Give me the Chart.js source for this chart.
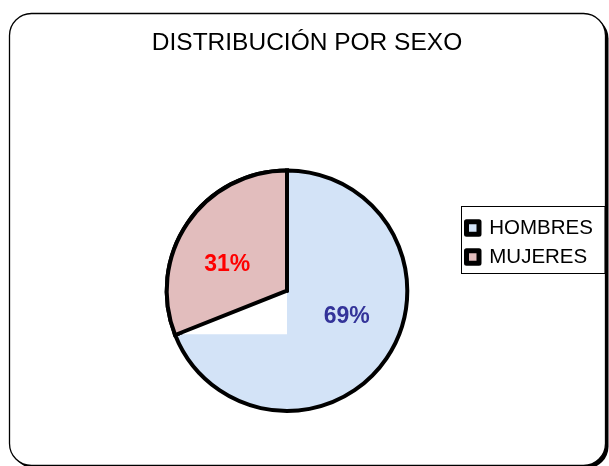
<!DOCTYPE html>
<html>
<head>
<meta charset="utf-8">
<script src="https://cdn.jsdelivr.net/npm/chart.js@4.4.1/dist/chart.umd.min.js"></script>
<style>
  html, body { margin: 0; padding: 0; background: #fff; }
</style>
</head>
<body>
<canvas id="chart" width="609" height="466"></canvas>
<script>
const TITLE = 'DISTRIBUCIÓN POR SEXO';
const CATEGORIES = ['HOMBRES', 'MUJERES'];
const PERCENTS = [69, 31];
const SLICE_COLORS = ['#d3e3f7', '#e2bdbd'];
const LABEL_COLORS = ['#333399', '#ff0000'];

const FONT = "'Liberation Sans', Arial, sans-serif";

// rounded frame with a drop shadow, like the spreadsheet chart box
const framePlugin = {
    id: 'frame',
    beforeDraw(chart) {
        const ctx = chart.ctx;
        ctx.save();
        ctx.fillStyle = '#000';
        ctx.beginPath();
        ctx.roundRect(12.5, 16.5, 596, 452, 22);
        ctx.fill();
        ctx.fillStyle = '#fff';
        ctx.beginPath();
        ctx.roundRect(9.5, 13.5, 596, 452, 22);
        ctx.fill();
        ctx.lineWidth = 1.3;
        ctx.strokeStyle = '#000';
        ctx.stroke();
        ctx.restore();
    }
};

// the original render leaves a white wedge under the centre, then labels on top
const sliceExtras = {
    id: 'sliceExtras',
    afterDatasetsDraw(chart, args, opts) {
        const ctx = chart.ctx;
        const arcs = chart.getDatasetMeta(0).data;
        const first = arcs[0];
        const r = first.outerRadius - 2;
        const ex = first.x + r * Math.cos(first.endAngle);
        const ey = first.y + r * Math.sin(first.endAngle);
        ctx.save();
        ctx.fillStyle = '#fff';
        ctx.beginPath();
        ctx.moveTo(first.x, first.y);
        ctx.lineTo(ex, ey);
        ctx.lineTo(first.x, ey);
        ctx.closePath();
        ctx.fill();
        ctx.restore();
        // redraw the neighbour so its border sits over the wedge
        arcs[1].draw(ctx);

        ctx.save();
        ctx.font = 'bold 23px ' + FONT;
        ctx.textAlign = 'center';
        ctx.textBaseline = 'middle';
        arcs.forEach((arc, i) => {
            const mid = (arc.startAngle + arc.endAngle) / 2;
            const x = arc.x + Math.cos(mid) * arc.outerRadius * opts.rx;
            const y = arc.y + Math.sin(mid) * arc.outerRadius * opts.ry;
            ctx.fillStyle = LABEL_COLORS[i];
            ctx.fillText(PERCENTS[i] + '%', x, y);
        });
        ctx.restore();
    }
};

// legend is laid out narrow (so title and pie centre right), then widened for drawing;
// a thin box is drawn round it
const legendBox = {
    id: 'legendBox',
    afterLayout(chart) {
        const legend = chart.legend;
        legend.right = chart.width - 3;
        legend.width = legend.right - legend.left;
    },
    afterDraw(chart) {
        const boxes = chart.legend.legendHitBoxes;
        if (!boxes || !boxes.length) return;
        const first = boxes[0];
        const last = boxes[boxes.length - 1];
        const left = Math.round(first.left - 6) + 0.5;
        const top = Math.round(first.top - 12) + 0.5;
        const bottom = Math.round(last.top + last.height + 6) + 0.5;
        const ctx = chart.ctx;
        ctx.save();
        ctx.strokeStyle = '#000';
        ctx.lineWidth = 1;
        ctx.strokeRect(left, top, chart.width - 4 - left, bottom - top);
        ctx.restore();
    }
};

const pieLabels = Chart.controllers.pie.overrides.plugins.legend.labels.generateLabels;

new Chart(document.getElementById('chart'), {
    type: 'pie',
    data: {
        labels: CATEGORIES,
        datasets: [{
            data: PERCENTS,
            backgroundColor: SLICE_COLORS,
            borderColor: '#000',
            borderWidth: 4,
            borderJoinStyle: 'miter'
        }]
    },
    options: {
        responsive: false,
        animation: false,
        layout: {
            padding: { top: 10, bottom: 53, left: 116, right: 111 }
        },
        plugins: {
            title: {
                display: true,
                text: TITLE,
                color: '#000',
                font: { family: FONT, size: 24.5, weight: 'normal', lineHeight: 1.2 },
                padding: { top: 19, bottom: 110 }
            },
            legend: {
                position: 'right',
                maxWidth: 40,
                title: {
                    display: true,
                    text: '',
                    font: { size: 10, lineHeight: 1 },
                    padding: { top: 52, bottom: 0 }
                },
                labels: {
                    color: '#000',
                    font: { family: FONT, size: 20.5 },
                    boxWidth: 12.5,
                    boxHeight: 12.5,
                    padding: 8.5,
                    generateLabels: (chart) => pieLabels(chart).map(item => {
                        item.lineWidth = 5;
                        item.lineJoin = 'round';
                        return item;
                    })
                }
            },
            tooltip: { enabled: false },
            sliceExtras: { rx: 0.6, ry: 0.38 }
        }
    },
    plugins: [framePlugin, sliceExtras, legendBox]
});
</script>
</body>
</html>
